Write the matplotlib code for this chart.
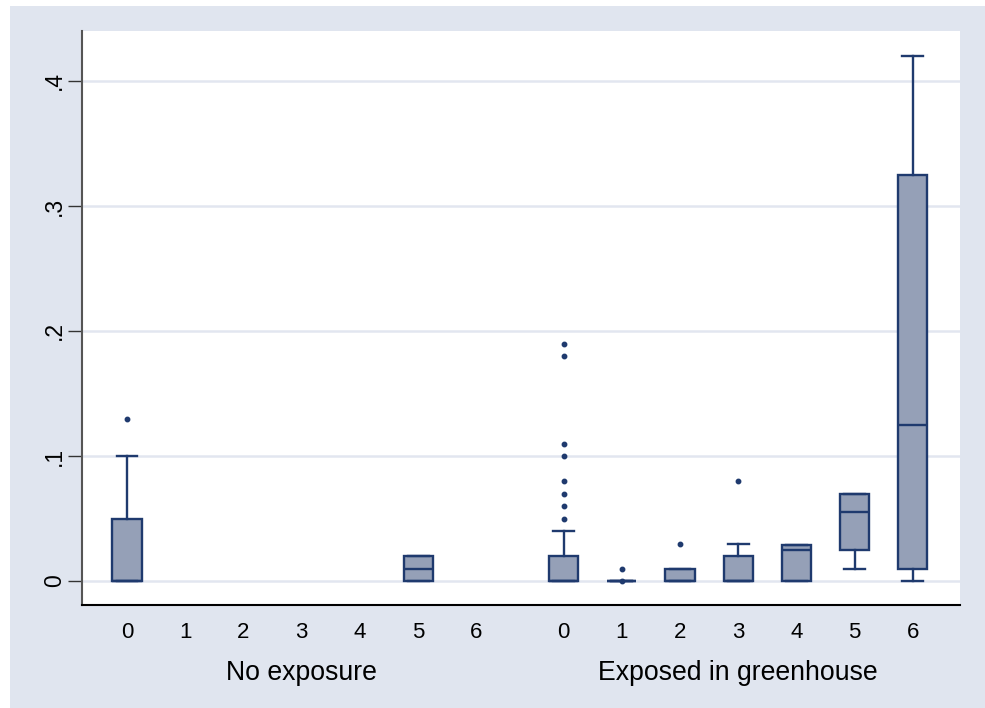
import matplotlib
matplotlib.use("Agg")
import matplotlib.pyplot as plt
from matplotlib.patches import Rectangle
import matplotlib.transforms as mtransforms

plt.rcParams['font.family'] = ['Liberation Sans', 'DejaVu Sans']

groups = ["No exposure", "Exposed in greenhouse"]
categories = [0, 1, 2, 3, 4, 5, 6]

# box stats per group, None = no observations in that category
q1 = [[0, None, None, None, None, 0, None],
      [0, 0, 0, 0, 0, 0.025, 0.01]]
med = [[0, None, None, None, None, 0.01, None],
       [0, 0, 0, 0, 0.025, 0.055, 0.125]]
q3 = [[0.05, None, None, None, None, 0.02, None],
      [0.02, 0, 0.01, 0.02, 0.029, 0.07, 0.325]]
whislo = [[0, None, None, None, None, 0, None],
          [0, 0, 0, 0, 0, 0.01, 0]]
whishi = [[0.1, None, None, None, None, 0.02, None],
          [0.04, 0, 0.01, 0.03, 0.029, 0.07, 0.42]]
fliers = [[[0.13], [], [], [], [], [], []],
          [[0.05, 0.06, 0.07, 0.08, 0.10, 0.11, 0.18, 0.19],
           [0, 0.01], [0.03], [0.08], [], [], []]]

yticks = [0, 0.1, 0.2, 0.3, 0.4]
ytick_labels = ["0", ".1", ".2", ".3", ".4"]

navy = "#1f3a6e"
fill = "#95a0b7"
bg = "#e0e5ef"
grid = "#e2e6f0"

fig = plt.figure(figsize=(9.85, 7.08), dpi=100)
fig.patches.append(Rectangle((10 / 985, 0), 1, 1 - 6 / 708, transform=fig.transFigure,
                             facecolor=bg, edgecolor="none", zorder=-10))
ax = fig.add_axes([82 / 985, 1 - 605 / 708, (960 - 82) / 985, (605 - 31) / 708])
ax.set_facecolor("white")

gap = len(categories) + 0.5
stats = []
positions = []
for g in range(len(groups)):
    for i, c in enumerate(categories):
        if q1[g][i] is None:
            continue
        stats.append(dict(q1=q1[g][i], med=med[g][i], q3=q3[g][i],
                          whislo=whislo[g][i], whishi=whishi[g][i],
                          fliers=fliers[g][i]))
        positions.append(g * gap + i)

ax.bxp(stats, positions=positions, widths=0.5, capwidths=0.36, patch_artist=True,
       showfliers=True,
       boxprops=dict(facecolor=fill, edgecolor=navy, linewidth=1.7),
       medianprops=dict(color=navy, linewidth=1.7),
       whiskerprops=dict(color=navy, linewidth=1.7),
       capprops=dict(color=navy, linewidth=1.7),
       flierprops=dict(marker="o", markersize=3.2, markerfacecolor=navy,
                       markeredgecolor=navy, linestyle="none"),
       zorder=3)

xt = [g * gap + i for g in range(len(groups)) for i in range(len(categories))]
ax.set_xticks(xt)
ax.set_xticklabels([str(c) for g in groups for c in categories], fontsize=16)
ax.tick_params(axis="x", length=0, pad=12)

ax.set_yticks(yticks)
ax.set_yticklabels(ytick_labels, fontsize=16.5, rotation=90, va="center")
ax.tick_params(axis="y", length=10, width=1, direction="out", pad=1.5, color="#333333")

ax.set_xlim(-0.773, 14.31)
ax.set_ylim(-0.0192, 0.4400)
ax.yaxis.grid(True, color=grid, linewidth=1.8)
ax.set_axisbelow(True)

for s in ["top", "right"]:
    ax.spines[s].set_visible(False)
ax.spines["left"].set_color("#555555")
ax.spines["left"].set_linewidth(1.5)
ax.spines["bottom"].set_color("black")
ax.spines["bottom"].set_linewidth(1.5)

trans = mtransforms.blended_transform_factory(ax.transData, fig.transFigure)
for g, name in enumerate(groups):
    ax.text(g * gap + (len(categories) - 1) / 2, 1 - 680 / 708, name, transform=trans,
            ha="center", va="baseline", fontsize=19.2)

fig.savefig("out.png", dpi=100)
